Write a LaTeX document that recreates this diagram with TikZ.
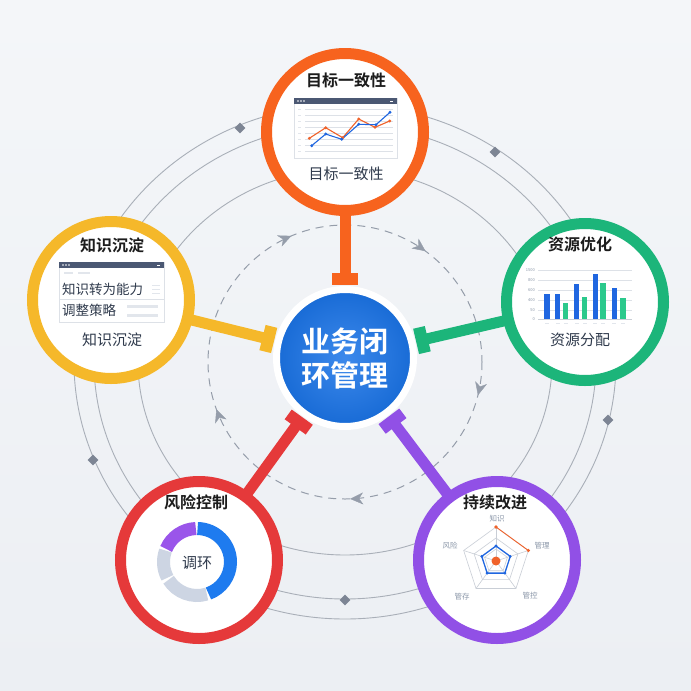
\documentclass[tikz,border=0pt]{standalone}
\usepackage{fontspec}
\setmainfont{Noto Sans CJK SC}[BoldFont={Noto Sans CJK SC Bold}]
\usepackage{xcolor}
\usetikzlibrary{arrows.meta,calc,decorations.markings}
\pgfdeclarelayer{bg}
\pgfdeclarelayer{links}
\pgfsetlayers{bg,links,main}
\tikzset{
  satring/.style ={circle, draw=#1, fill=white, line width=11pt,
                   minimum size=157pt, inner sep=0pt},
  hubbox/.style  ={circle, draw=white, line width=7pt, minimum size=137pt,
                   inner sep=0pt, shading=radial, inner color=hubblue!85!white,
                   outer color=hubblue!92!black, text=white, align=center,
                   font=\bfseries\fontsize{29}{34}\selectfont},
  ttl/.style     ={font=\bfseries\fontsize{16}{18}\selectfont, text=inkdark,
                   inner sep=0pt},
  subttl/.style  ={font=\fontsize{15}{17}\selectfont, text=inkslate, inner sep=0pt},
  rowtxt/.style  ={font=\fontsize{13.5}{15}\selectfont, text=inkslate,
                   inner sep=0pt, anchor=west},
  axtxt/.style   ={font=\fontsize{7.5}{8}\selectfont, text=radartxt, inner sep=0pt},
  ticktxt/.style ={font=\fontsize{4}{5}\selectfont, text=radartxt, inner sep=0pt,
                   anchor=east},
  linkbar/.style ={draw=#1, line width=11pt},
  linkcap/.style ={draw=#1, line width=12pt},
  orbit/.style   ={draw=orbitgray, line width=0.9pt},
  gem/.style     ={fill=gemgray, minimum size=7.5pt, inner sep=0pt, rotate=45},
  flow/.style    ={draw=flowgray, line width=1pt, dash pattern=on 8pt off 6pt},
  flowtip/.style ={color=flowgray, decorate, decoration={markings,
                   mark=at position 0.039 with {\arrow{Stealth[length=13pt, width=12pt, inset=4pt, color=flowgray]}},
                   mark=at position 0.244 with {\arrow{Stealth[length=13pt, width=12pt, inset=4pt, color=flowgray]}},
                   mark=at position 0.444 with {\arrow{Stealth[length=13pt, width=12pt, inset=4pt, color=flowgray]}},
                   mark=at position 0.686 with {\arrow{Stealth[length=13pt, width=12pt, inset=4pt, color=flowgray]}},
                   mark=at position 0.850 with {\arrow{Stealth[length=13pt, width=12pt, inset=4pt, color=flowgray]}}}},
  winframe/.style={draw=gridgray, fill=white, line width=0.6pt},
  gridln/.style  ={draw=gridgray, line width=0.5pt},
  pale/.style    ={draw=palegray, line width=#1},
  pale/.default=1.2pt,
}
\definecolor{goalorange} {HTML}{F7631E}
\definecolor{knowyellow} {HTML}{F5B82A}
\definecolor{resgreen}   {HTML}{1CB57A}
\definecolor{riskred}    {HTML}{E5393A}
\definecolor{impviolet}  {HTML}{9150E6}
\definecolor{hubblue}    {HTML}{1A74E8}
\definecolor{orbitgray}  {HTML}{A9AFB8}
\definecolor{gemgray}    {HTML}{7D8594}
\definecolor{flowgray}   {HTML}{959DAA}
\definecolor{bgtop}      {HTML}{F4F6F9}
\definecolor{bgbot}      {HTML}{ECEFF3}
\definecolor{inkdark}    {HTML}{1C1C1C}
\definecolor{inkslate}   {HTML}{2F3A4C}
\definecolor{winbar}     {HTML}{4B5873}
\definecolor{gridgray}   {HTML}{DDE1E7}
\definecolor{palegray}   {HTML}{E2E6EC}
\definecolor{barblue}    {HTML}{1F66E0}
\definecolor{bargreen}   {HTML}{2BC98C}
\definecolor{donutgray}  {HTML}{CDD5E3}
\definecolor{donutblue}  {HTML}{1E7BEF}
\definecolor{donutviolet}{HTML}{9A55EA}
\definecolor{radarorange}{HTML}{F0622A}
\definecolor{radargrid}  {HTML}{C9CED6}
\definecolor{radartxt}   {HTML}{8A96A8}

\begin{document}
\begin{tikzpicture}[x=1pt, y=-1pt]
  \coordinate (ctr) at (345,362);
  % hub and the five stations
  \node[hubbox] (hub) at (345,358) {业务闭\\环管理};
  \node[satring=goalorange] (goal) at (345,132) {};
  \node[satring=knowyellow] (know) at (111,300) {};
  \node[satring=resgreen]   (res)  at (585,302) {};
  \node[satring=riskred]    (risk) at (199,560) {};
  \node[satring=impviolet]  (imp)  at (497,560) {};

  % goal: line chart
  \node[ttl]    (goal-t) at ($(goal.center)+(1,-52)$) {目标一致性};
  \node[subttl] (goal-s) at ($(goal.center)+(1,42)$)  {目标一致性};
  \begin{scope}[shift={(goal.center)}]
    \draw[winframe] (-51,-34) rectangle (52,26);
    \fill[winbar] (-51,-34) rectangle (52,-28);
    \foreach \d in {-47,-44,-41} \fill[white] (\d,-31) circle (0.9);
    \draw[white, line width=0.5pt] (45,-31) -- (48,-31);
    \foreach \g in {-23,-17,-11,-5,1,7,13,19} {
      \draw[gridln] (-40,\g) -- (48,\g);
      \draw[pale=1pt] (-47,\g) -- (-44,\g);
    }
    \draw[radarorange, line width=1.1pt] plot coordinates
      {(-35.7,6.3) (-19.3,-4.3) (-2.3,5.7) (13.7,-13) (30,-4.7) (44.7,-11)};
    \draw[barblue, line width=1.1pt] plot coordinates
      {(-33.3,13.7) (-19.3,2) (-3.3,7.3) (13.7,-7.7) (31,-7.3) (45,-19.7)};
    \foreach \p in {(-35.7,6.3),(-19.3,-4.3),(-2.3,5.7),(13.7,-13),(30,-4.7),(44.7,-11)}
      \fill[radarorange] \p circle (1.6);
    \foreach \p in {(-33.3,13.7),(-19.3,2),(-3.3,7.3),(13.7,-7.7),(31,-7.3),(45,-19.7)}
      \fill[barblue] \p circle (1.6);
  \end{scope}

  % know: text panel
  \node[ttl]    (know-t) at ($(know.center)+(1,-55)$) {知识沉淀};
  \node[subttl] (know-s) at ($(know.center)+(1,40)$)  {知识沉淀};
  \begin{scope}[shift={(know.center)}]
    \draw[winframe] (-52,-38) rectangle (53,22);
    \fill[winbar] (-52,-38) rectangle (53,-32);
    \foreach \d in {-48,-45,-42} \fill[white] (\d,-35) circle (0.9);
    \draw[white, line width=0.5pt] (46,-35) -- (49,-35);
    \draw[pale=1.3pt] (-47,-27) -- (-38,-27) (-33,-27) -- (-21,-27);
    \node[rowtxt] (know-r1) at (-49,-11) {知识转为能力};
    \node[rowtxt] (know-r2) at (-49,10)  {调整策略};
    \draw[pale=0.8pt] (41,-15) -- (49,-15) (41,-11) -- (49,-11) (41,-7) -- (49,-7);
    \draw[gridln] (-52,-1) -- (53,-1);
    \draw[pale=3pt] (16,6) -- (47,6) (16,15) -- (47,15);
  \end{scope}

  % res: bar chart
  \node[ttl]    (res-t) at ($(res.center)+(-5,-58)$) {资源优化};
  \node[subttl] (res-s) at ($(res.center)+(-5,38)$)  {资源分配};
  \begin{scope}[shift={(res.center)}]
    \foreach \g/\v in {-32/1500,-22/800,-12/600,-2/400,8/50,17/0} {
      \draw[gridln] (-47,\g) -- (47,\g);
      \node[ticktxt] at (-50,\g) {\v};
    }
    \draw[radargrid, line width=0.7pt] (-47,17) -- (47,17);
    \foreach \a/\b/\t/\c in {-41/-35/-8/barblue, -30/-25/-8/barblue,
        -22/-17/1/bargreen, -11/-6/-18/barblue, -3/2/-5/bargreen,
        8/13/-28/barblue, 15/21/-19/bargreen, 27/32/-14/barblue,
        35/41/-4/bargreen}
      \fill[\c] (\a,\t) rectangle (\b,17);
    \foreach \x in {-38,-27,-19,-8,0,10,18,29,38}
      \draw[pale=0.8pt] (\x-2,21) -- (\x+2,21);
  \end{scope}

  % risk: donut
  \node[ttl] (risk-t) at ($(risk.center)+(-3,-58)$) {风险控制};
  \begin{scope}[shift={($(risk.center)+(-2,2)$)}]
    \draw[donutblue,   line width=13pt] (271:33.5) arc[start angle=271, end angle=430, radius=33.5];
    \draw[donutgray,   line width=13pt] (73:33.5)  arc[start angle=73,  end angle=148, radius=33.5];
    \draw[donutgray,   line width=13pt] (152:33.5) arc[start angle=152, end angle=200, radius=33.5];
    \draw[donutviolet, line width=13pt] (203:33.5) arc[start angle=203, end angle=268, radius=33.5];
    \node[subttl] (risk-s) at (0,1) {调环};
  \end{scope}

  % imp: radar
  \node[ttl] (imp-t) at ($(imp.center)+(-2,-58)$) {持续改进};
  \begin{scope}[shift={($(imp.center)+(-1,1)$)}]
    \foreach \r in {34,23,12}
      \draw[radargrid, line width=0.6pt] (270:\r) -- (342:\r) -- (54:\r) -- (126:\r) -- (198:\r) -- cycle;
    \foreach \a in {270,342,54,126,198} \draw[radargrid, line width=0.6pt] (0,0) -- (\a:34);
    \draw[radarorange, line width=0.9pt] (270:34) -- (342:34);
    \fill[radarorange] (270:34) circle (1.8) (342:34) circle (1.8);
    \draw[barblue, line width=1.3pt] (270:15) -- (342:15) -- (54:15) -- (126:15) -- (198:15) -- cycle;
    \foreach \a in {270,342,54,126,198} \fill[barblue] (\a:15) circle (1.6);
    \fill[radarorange] (0,0) circle (4.5);
    \node[axtxt] (imp-a1) at (1,-42)   {知识};
    \node[axtxt] (imp-a2) at (46,-15)  {管理};
    \node[axtxt] (imp-a3) at (34,35)   {管控};
    \node[axtxt] (imp-a4) at (-34,36)  {管存};
    \node[axtxt] (imp-a5) at (-46,-15) {风险};
  \end{scope}

  % spokes with end caps
  \begin{pgfonlayer}{links}
    \foreach \s/\c in {goal/goalorange, know/knowyellow, res/resgreen,
                       risk/riskred, imp/impviolet} {
      \coordinate (\s-cap) at ($(hub.center)!79pt!(\s.center)$);
      \draw[linkbar=\c] (\s.center) -- (\s-cap);
      \draw[linkcap=\c] ($(\s-cap)!13pt!90:(\s.center)$) -- ($(\s-cap)!13pt!-90:(\s.center)$);
    }
  \end{pgfonlayer}

  % backdrop, orbits and flow ring
  \begin{pgfonlayer}{bg}
    \fill[top color=bgtop, bottom color=bgbot] (0,0) rectangle (691,691);
    \draw[orbit] (ctr) ellipse [x radius=207, y radius=193];
    \draw[orbit] (ctr) ellipse [x radius=251, y radius=237];
    \draw[orbit] (ctr) ellipse [x radius=271, y radius=257];
    \foreach \p [count=\i] in {(240,128),(495,152),(608,420),(93,460),(345,600)}
      \node[gem] (gem\i) at \p {};
    \draw[flow] (ctr) circle [radius=137];
    \path[flowtip] (ctr) circle [radius=137];
  \end{pgfonlayer}
\end{tikzpicture}
\end{document}
